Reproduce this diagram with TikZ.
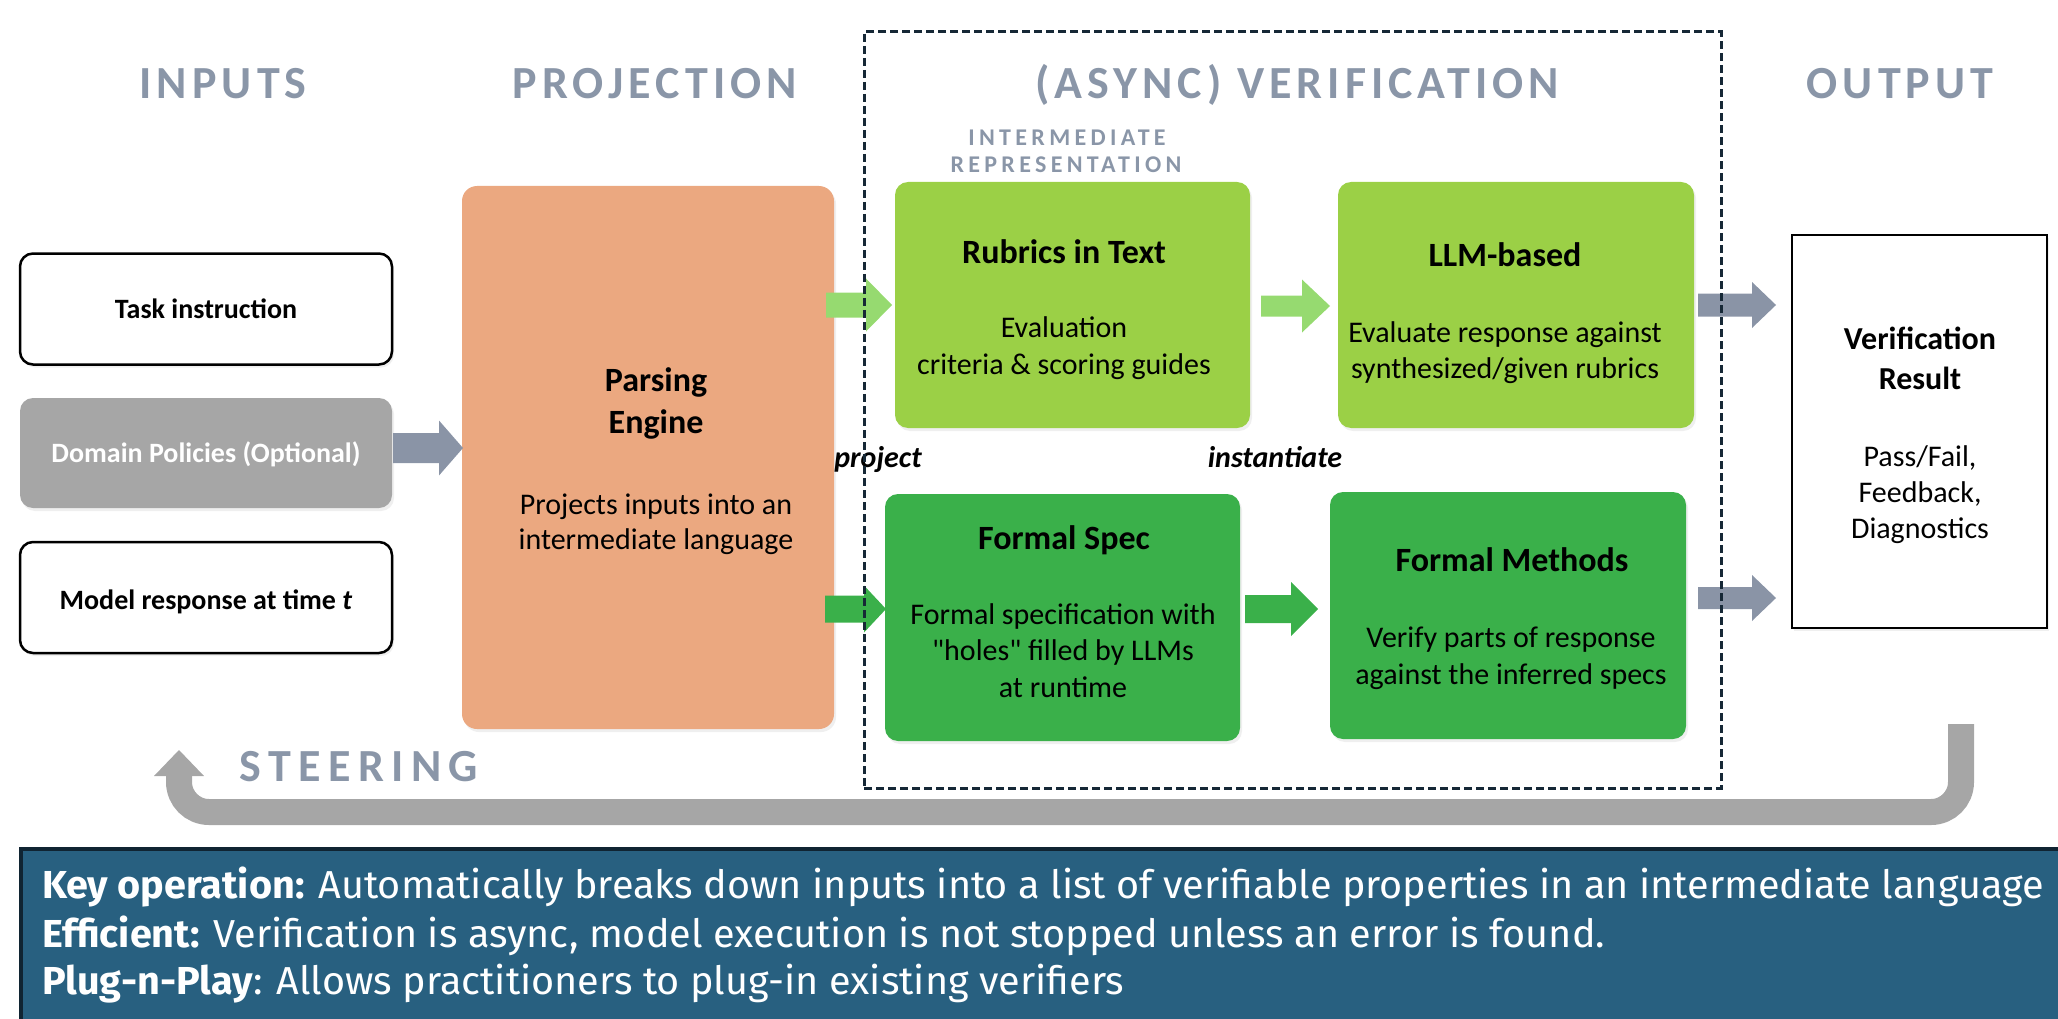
\documentclass[tikz,border=0pt]{standalone}
\usepackage{fontspec}
\usepackage{graphicx}
\setmainfont{Carlito}
\newfontfamily\hdrfont{Carlito}[LetterSpace=11]
\newfontfamily\steerfont{Carlito}[LetterSpace=16]
\newfontfamily\irfont{Carlito}[LetterSpace=18]
\newfontfamily\notefont{Fira Sans}
\usetikzlibrary{calc,shadows}

\definecolor{hdrgray}{RGB}{138,150,168}
\definecolor{polgray}{RGB}{166,166,166}
\definecolor{parsefill}{RGB}{235,168,128}
\definecolor{rubgreen}{RGB}{155,208,70}
\definecolor{rubarrow}{RGB}{150,218,112}
\definecolor{formgreen}{RGB}{58,176,74}
\definecolor{slate}{RGB}{138,148,166}
\definecolor{steergray}{RGB}{166,166,166}
\definecolor{notefill}{RGB}{40,96,128}
\definecolor{noteedge}{RGB}{16,36,50}
\definecolor{framecol}{RGB}{22,40,54}

% straight double quote, kept out of the TeX ligature mapping
\newcommand\sq{{\addfontfeature{Ligatures=TeXOff}"}}

\newcommand\notelineA{\textbf{Key operation:} Automatically breaks down inputs into a list of verifiable properties in an intermediate language}
\newcommand\notelineB{\textbf{Efficient:} Verification is async, model execution is not stopped unless an error is found.}
\newcommand\notelineC{\textbf{Plug-n-Play}: Allows practitioners to plug-in existing verifiers}
\newlength\notewidth
\newsavebox\notemeasure

\tikzset{
  every node/.style={inner sep=0pt, outer sep=0pt},
  softshadow/.style={drop shadow={opacity=0.13, shadow xshift=2pt, shadow yshift=-3pt}},
  inbox/.style={draw=black, line width=2.5pt, fill=white, rounded corners=13pt, softshadow},
  polbox/.style={fill=polgray, rounded corners=13pt, softshadow},
  parsebox/.style={fill=parsefill, rounded corners=15pt, softshadow},
  rubbox/.style={fill=rubgreen, rounded corners=13pt, softshadow},
  formbox/.style={fill=formgreen, rounded corners=13pt, softshadow},
  resbox/.style={draw=black, line width=2.5pt, fill=white, softshadow},
  vframe/.style={draw=framecol, line width=3pt, dash pattern=on 8pt off 4pt},
  notebox/.style={fill=notefill, draw=noteedge, line width=4pt},
  hdr/.style={text=hdrgray, font=\hdrfont\bfseries\fontsize{46}{50}\selectfont, anchor=base},
  irlabel/.style={text=hdrgray, font=\irfont\bfseries\fontsize{24}{28}\selectfont, anchor=base},
  steerlabel/.style={text=hdrgray, font=\steerfont\bfseries\fontsize{46}{50}\selectfont, anchor=base},
  intext/.style={font=\bfseries\fontsize{28}{34}\selectfont, anchor=base},
  % multi-line texts are placed by the baseline of their last line
  title/.style={font=\bfseries\fontsize{34}{42}\selectfont, align=center, anchor=base},
  desc/.style={font=\fontsize{30}{#1}\selectfont, align=center, anchor=base},
  desc/.default=37,
  edgelabel/.style={font=\bfseries\itshape\fontsize{30}{36}\selectfont, anchor=base},
  noteline/.style={text=white, font=\notefont\fontsize{39}{48}\selectfont, anchor=base west},
  steerline/.style={draw=steergray, line width=26pt, rounded corners=30pt},
  % block arrow: #1 half shaft height, #2 half head height, #3 head length
  blockarrow/.style n args={3}{to path={
    ($(\tikztostart)+(0,#1)$) -- ($(\tikztotarget)+(-#3,#1)$) --
    ($(\tikztotarget)+(-#3,#2)$) -- (\tikztotarget) --
    ($(\tikztotarget)+(-#3,-#2)$) -- ($(\tikztotarget)+(-#3,-#1)$) --
    ($(\tikztostart)+(0,-#1)$) -- cycle}},
}

\begin{document}
\sbox\notemeasure{\notefont\fontsize{39}{48}\selectfont\notelineA}%
\setlength\notewidth{\wd\notemeasure}%
\pgfmathsetmacro\notescale{2002/\notewidth}%
\begin{tikzpicture}[x=1pt, y=-1pt]
\useasboundingbox (0,0) rectangle (2058,1019);

% column headings
\node[hdr] (h-in) at (223,99) {INPUTS};
\node[hdr] (h-proj) at (655,99) {PROJECTION};
\node[hdr] (h-ver) at (1297,99) {(ASYNC) VERIFICATION};
\node[hdr] (h-out) at (1900,99) {OUTPUT};
\node[irlabel] (ir-a) at (1067,146) {INTERMEDIATE};
\node[irlabel] (ir-b) at (1066,173) {REPRESENTATION};

% input boxes
\node[inbox, minimum width=372pt, minimum height=111pt] (task) at (206,309) {};
\node[polbox, minimum width=372pt, minimum height=110pt] (domain) at (206,453) {};
\node[inbox, minimum width=372pt, minimum height=111pt] (model) at (206,597.5) {};
\node[intext] (task-t) at (206,318) {Task instruction};
\node[intext, text=white] (domain-t) at (206,462) {Domain Policies (Optional)};
\node[intext] (model-t) at (206,609) {Model response at time \textit{t}};

% projection
\node[parsebox, minimum width=372pt, minimum height=543pt] (parse) at (648,457.5) {};
\node[title] (parse-t) at (656,433) {Parsing\\Engine};
\node[desc=35] (parse-d) at (656,549) {Projects inputs into an\\intermediate language};

% verification boxes
\node[rubbox, minimum width=355pt, minimum height=246pt] (rubric) at (1072.5,305) {};
\node[rubbox, minimum width=356pt, minimum height=246pt] (llm) at (1516,305) {};
\node[formbox, minimum width=355pt, minimum height=247pt] (fspec) at (1062.5,617.5) {};
\node[formbox, minimum width=356pt, minimum height=247pt] (fmeth) at (1508,615.5) {};

\node[title] (rubric-t) at (1064,263) {Rubrics in Text};
\node[desc] (rubric-d) at (1064,374) {Evaluation\\criteria \& scoring guides};
\node[title] (llm-t) at (1505,266) {LLM-based};
\node[desc=36] (llm-d) at (1505,378) {Evaluate response against\\synthesized/given rubrics};
\node[title] (fspec-t) at (1064,549) {Formal Spec};
\node[desc=36.5] (fspec-d) at (1063,697) {Formal specification with\\\sq holes\sq{} filled by LLMs\\at runtime};
\node[title] (fmeth-t) at (1512,571) {Formal Methods};
\node[desc] (fmeth-d) at (1511,684) {Verify parts of response\\against the inferred specs};

% output
\node[resbox, minimum width=255pt, minimum height=393pt] (result) at (1919.5,431.5) {};
\node[title, font=\bfseries\fontsize{32}{40}\selectfont] (result-t) at (1920,389) {Verification\\Result};
\node[desc=36] (result-d) at (1920,538) {Pass/Fail,\\Feedback,\\Diagnostics};

% block arrows between the stages
\coordinate (dp-s) at (393,448);   \coordinate (dp-t) at (463,448);
\coordinate (pr-s) at (826,305);   \coordinate (pr-t) at (892,305);
\coordinate (rl-s) at (1261,306);  \coordinate (rl-t) at (1330,306);
\coordinate (ps-s) at (825,609);   \coordinate (ps-t) at (886,609);
\coordinate (sm-s) at (1245,609);  \coordinate (sm-t) at (1318,609);
\coordinate (lr-s) at (1698,305);  \coordinate (lr-t) at (1776,305);
\coordinate (mr-s) at (1698,598);  \coordinate (mr-t) at (1776,598);

\path[fill=slate] (dp-s) to[blockarrow={15}{27.5}{24}] (dp-t);
\path[fill=rubarrow] (pr-s) to[blockarrow={12.5}{26.5}{26}] (pr-t);
\path[fill=rubarrow] (rl-s) to[blockarrow={10.5}{26.5}{28}] (rl-t);
\path[fill=formgreen] (ps-s) to[blockarrow={13.5}{23.5}{22}] (ps-t);
\path[fill=formgreen] (sm-s) to[blockarrow={14}{27}{27}] (sm-t);
\path[fill=slate] (lr-s) to[blockarrow={11.5}{23}{24}] (lr-t);
\path[fill=slate] (mr-s) to[blockarrow={11}{23}{24}] (mr-t);

\node[edgelabel] (lbl-proj) at (878,467) {project};
\node[edgelabel] (lbl-inst) at (1275,467) {instantiate};

% steering feedback loop
\coordinate (steer-src) at (1961,724);
\coordinate (steer-neck) at (179,776);
\coordinate (steer-tip) at (179,750);
\draw[steerline] (steer-src) -- (1961,812) -- (179,812) -- (steer-neck);
\fill[steergray] ($(steer-neck)+(-25,0)$) -- (steer-tip) -- ($(steer-neck)+(25,0)$) -- cycle;
\node[steerlabel] (steer-t) at (359,781) {STEERING};

% verification frame
\node[vframe, minimum width=857pt, minimum height=756pt] (verframe) at (1292.5,410) {};

% summary panel
\node[notebox, minimum width=2060pt, minimum height=200pt, anchor=north west] (note) at (21,849) {};
\node[noteline] (note-a) at (42,898) {\scalebox{\notescale}[1]{\notelineA}};
\node[noteline] (note-b) at (42,947) {\scalebox{\notescale}[1]{\notelineB}};
\node[noteline] (note-c) at (42,994) {\scalebox{\notescale}[1]{\notelineC}};
\end{tikzpicture}
\end{document}
